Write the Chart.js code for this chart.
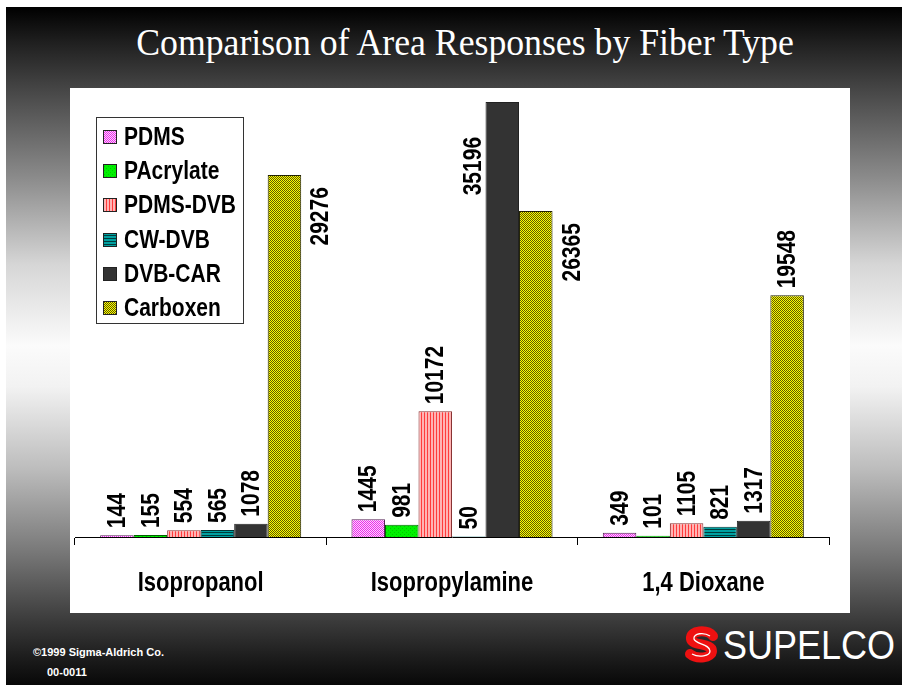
<!DOCTYPE html>
<html>
<head>
<meta charset="utf-8">
<script src="https://cdn.jsdelivr.net/npm/chart.js@4/dist/chart.umd.min.js"></script>
<style>
  html, body { margin: 0; padding: 0; background: #fff; }
  body { width: 902px; height: 685px; position: relative; overflow: hidden; }
  #bg { position: absolute; left: 6px; top: 7px; width: 896px; height: 678px;
        background: linear-gradient(to bottom, #000 0%, #1e1e1e 5%, #454545 12%, #8a8a8a 25%, #d6d6d6 38%, #fbfbfb 50%, #f2f2f2 56%, #bdbdbd 68%, #7a7a7a 80%, #3e3e3e 90%, #1c1c1c 96%, #080808 100%); }
  #title { position: absolute; left: 465px; top: 22px; text-align: center;
           font-family: "Liberation Serif", "Times New Roman", serif; font-size: 38px; color: #fff; white-space: nowrap;
           transform: translateX(-50%) scaleX(0.94); line-height: 1.1; }
  #panel { position: absolute; left: 70px; top: 88px; width: 780px; height: 525px; background: #fff; }
  #c { position: absolute; left: 0; top: 0; }
  .foot { position: absolute; font-family: "Liberation Sans", Arial, sans-serif; font-weight: bold; color: #fff; font-size: 11px; white-space: nowrap; }
  #logo { position: absolute; left: 682px; top: 625px; width: 40px; height: 40px; }
  #supelco { position: absolute; left: 723px; top: 624px; font-family: "Liberation Sans", Arial, sans-serif; font-size: 36px; color: #fff; transform: scaleY(1.15); transform-origin: 0 0; white-space: nowrap; line-height: 1; }
</style>
</head>
<body>
<div id="bg"></div>
<div id="title">Comparison of Area Responses by Fiber Type</div>
<div id="panel"><canvas id="c" width="780" height="525"></canvas></div>
<div class="foot" style="left:33px; top:646px;">©1999 Sigma-Aldrich Co.</div>
<div class="foot" style="left:47px; top:666px;">00-0011</div>
<svg id="logo" viewBox="0 0 40 40">
  <path d="M31 11 C 25 4, 8 5, 9 14 C 10 21, 30 18, 30 26 C 30 33, 15 35, 8 29" stroke="#ee1111" stroke-width="10" fill="none" stroke-linecap="round"/>
  <path d="M28 11 C 22 7, 11 8, 12 14 C 13 19, 28 19, 28 26 C 28 31, 17 33, 10 29" stroke="#fff" stroke-width="1.3" fill="none"/>
</svg>
<div id="supelco">SUPELCO</div>
<script>
// ---- data ----
const categories = ["Isopropanol", "Isopropylamine", "1,4 Dioxane"];
const seriesNames = ["PDMS", "PAcrylate", "PDMS-DVB", "CW-DVB", "DVB-CAR", "Carboxen"];
const pdms      = [144, 1445, 349];
const pacrylate = [155, 981, 101];
const pdmsDvb   = [554, 10172, 1105];
const cwDvb     = [565, 50, 821];
const dvbCar    = [1078, 35196, 1317];
const carboxen  = [29276, 26365, 19548];

// ---- patterns ----
function makePattern(w, h, draw) {
  const c = document.createElement('canvas');
  c.width = w; c.height = h;
  const g = c.getContext('2d');
  draw(g);
  return g.createPattern(c, 'repeat');
}
const ctxMain = document.getElementById('c').getContext('2d');
const fills = [
  makePattern(4, 4, g => { g.fillStyle = '#ffd0ff'; g.fillRect(0,0,4,4); g.fillStyle = '#e830e8';
    for (let y = 0; y < 4; y++) for (let x = 0; x < 4; x++) if ((x + y) % 4 === 0 || (x + y) % 4 === 2) g.fillRect(x, y, 1, 1); }),
  makePattern(4, 4, g => { g.fillStyle = '#00f000'; g.fillRect(0,0,4,4); g.fillStyle = '#00c800'; g.fillRect(0,0,1,1); g.fillRect(2,2,1,1); }),
  makePattern(3, 1, g => { g.fillStyle = '#ffb4b4'; g.fillRect(0,0,3,1); g.fillStyle = '#ff3c3c'; g.fillRect(0,0,1,1); }),
  makePattern(1, 3, g => { g.fillStyle = '#00a0a0'; g.fillRect(0,0,1,3); g.fillStyle = '#003c3c'; g.fillRect(0,0,1,1); }),
  '#333333',
  makePattern(2, 2, g => { g.fillStyle = '#ffff00'; g.fillRect(0,0,2,2); g.fillStyle = '#5c5a00'; g.fillRect(0,0,1,1); g.fillRect(1,1,1,1); })
];
const borders = ['#552255', '#006000', '#883333', '#003333', '#222222', '#222200'];
const seriesValues = [pdms, pacrylate, pdmsDvb, cwDvb, dvbCar, carboxen];

// label placements that were moved beside the bar in the original
const sideLabels = { "5:0": "right", "5:1": "right", "4:1": "left" };

const FONT_FAMILY = '"Liberation Sans", Arial, sans-serif';
const LABEL_FONT = 'bold 21px ' + FONT_FAMILY;
const STRETCH = 1.2;

const labelPlugin = {
  id: 'barLabels',
  afterDatasetsDraw(chart) {
    const ctx = chart.ctx;
    ctx.save();
    ctx.font = LABEL_FONT;
    ctx.fillStyle = '#000';
    ctx.textBaseline = 'middle';
    chart.data.datasets.forEach((ds, i) => {
      const meta = chart.getDatasetMeta(i);
      meta.data.forEach((el, j) => {
        const txt = String(ds.data[j]);
        const mode = sideLabels[i + ':' + j];
        ctx.save();
        if (mode === 'right') {
          ctx.translate(el.x + el.width / 2 + 19, el.y + 12);
          ctx.rotate(-Math.PI / 2);
          ctx.textAlign = 'right';
        } else if (mode === 'left') {
          ctx.translate(el.x - el.width / 2 - 13, el.y + 35);
          ctx.rotate(-Math.PI / 2);
          ctx.textAlign = 'right';
        } else {
          ctx.translate(el.x, el.y - 7);
          ctx.rotate(-Math.PI / 2);
          ctx.textAlign = 'left';
        }
        ctx.scale(1, STRETCH);
        ctx.fillText(txt, 0, 1);
        ctx.restore();
      });
    });
    ctx.restore();
  }
};

const categoryPlugin = {
  id: 'catLabels',
  afterDraw(chart) {
    const ctx = chart.ctx;
    const xs = chart.scales.x;
    ctx.save();
    ctx.font = 'bold 22px ' + FONT_FAMILY;
    ctx.fillStyle = '#000';
    ctx.textAlign = 'center';
    ctx.textBaseline = 'middle';
    categories.forEach((c, i) => {
      ctx.save();
      ctx.translate(xs.getPixelForValue(i), xs.top + 46);
      ctx.scale(1, 1.25);
      ctx.fillText(c, 0, 0);
      ctx.restore();
    });
    ctx.restore();
  }
};

const legendPlugin = {
  id: 'boxLegend',
  afterDraw(chart) {
    const ctx = chart.ctx;
    ctx.save();
    const bx = 26.5, by = 29.5, bw = 147, bh = 206;
    ctx.fillStyle = '#fff';
    ctx.fillRect(bx, by, bw, bh);
    ctx.strokeStyle = '#333';
    ctx.lineWidth = 1;
    ctx.strokeRect(bx, by, bw, bh);
    ctx.font = LABEL_FONT;
    ctx.textBaseline = 'middle';
    ctx.textAlign = 'left';
    seriesNames.forEach((name, i) => {
      const cy = 49 + i * 34.2;
      ctx.fillStyle = fills[i];
      ctx.fillRect(33, Math.round(cy - 7), 14, 14);
      ctx.strokeStyle = '#222';
      ctx.strokeRect(33.5, Math.round(cy - 7) + 0.5, 13, 13);
      ctx.fillStyle = '#000';
      ctx.save();
      ctx.translate(54, cy + 1);
      ctx.scale(1, STRETCH);
      ctx.fillText(name, 0, 0);
      ctx.restore();
    });
    ctx.restore();
  }
};

new Chart(ctxMain, {
  type: 'bar',
  data: {
    labels: categories,
    datasets: seriesNames.map((n, i) => ({
      label: n,
      data: seriesValues[i],
      backgroundColor: fills[i],
      borderColor: borders[i],
      borderWidth: 1,
      borderSkipped: 'bottom',
      categoryPercentage: 0.8,
      barPercentage: 1.0
    }))
  },
  options: {
    responsive: false,
    animation: false,
    devicePixelRatio: 1,
    layout: { padding: { left: 5, right: 21, top: 4, bottom: 0 } },
    plugins: { legend: { display: false }, tooltip: { enabled: false } },
    scales: {
      y: { display: false, min: 0, max: 36000 },
      x: {
        afterFit(scale) { scale.height = 76; },
        border: { display: true, color: '#000', width: 1 },
        grid: { display: true, offset: true, drawOnChartArea: false, drawTicks: true, tickLength: 8, color: '#000' },
        ticks: { display: false }
      }
    }
  },
  plugins: [labelPlugin, categoryPlugin, legendPlugin]
});
</script>
</body>
</html>
